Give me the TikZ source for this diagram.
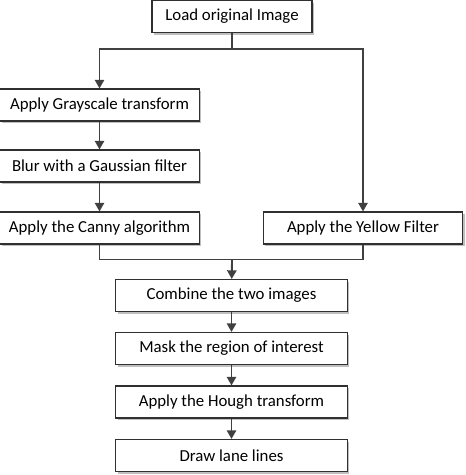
\documentclass[tikz,border=0pt]{standalone}
\usepackage{fontspec}
\setmainfont{Carlito}
\usepackage{tikz}
\usetikzlibrary{arrows.meta}
\usetikzlibrary{shadows}
\usetikzlibrary{calc}
\usetikzlibrary{positioning}
\definecolor{tikz-block}{HTML}{303030}
\definecolor{tikz-line}{HTML}{404040}
\tikzset{every text node part/.style={align=center, font={\fontsize{12.6}{15}\selectfont}}}
\tikzstyle{block} = [rectangle, draw=tikz-block, fill=white, line width=0.8pt, minimum height=24pt,
  drop shadow={shadow xshift=1.5pt, shadow yshift=-1.5pt, fill=black!25, opacity=1}]
\tikzstyle{ln} = [draw=tikz-line, line width=1.4pt, -{Triangle[width=7pt,length=6.5pt]}]
\tikzstyle{ln-plain} = [draw=tikz-line, line width=1.4pt]

\begin{document}
\begin{tikzpicture}[
        x=0.75pt, y=-0.75pt,
        top-block/.style={block, minimum width=120pt},
        side-block/.style={block, minimum width=149.5pt},
        wide-block/.style={block, minimum width=173.5pt}
      ]
      \useasboundingbox (0,0) rectangle (466,475);
      \node[top-block]         (load)    at (232,16.5)         {Load original Image};
      \node[side-block]        (gray)    at (99.5,105)          {Apply Grayscale transform};
      \node[side-block]        (blur)    at (99.5,166)          {Blur with a Gaussian filter};
      \node[side-block]        (canny)   at (99.5,228)          {Apply the Canny algorithm};
      \node[side-block]        (yellow)  at (363,228)           {Apply the Yellow Filter};
      \node[wide-block]        (combine) at (231.5,295.5)       {Combine the two images};
      \node[wide-block]        (mask)    at (231.5,348.5)       {Mask the region of interest};
      \node[wide-block]        (hough)   at (231.5,402)         {Apply the Hough transform};
      \node[wide-block]        (lanes)   at (231.5,455.5)       {Draw lane lines};
      \coordinate              (split)   at (232,49);
      \coordinate              (join)    at (232,259.5);
      \draw[ln-plain]          (load)    --  (split);
      \draw[ln]                (split)   -|  (gray);
      \draw[ln]                (split)   -|  (yellow);
      \draw[ln]                (gray)    --  (blur);
      \draw[ln]                (blur)    --  (canny);
      \draw[ln-plain]          (canny)   |-  (join);
      \draw[ln-plain]          (yellow)  |-  (join);
      \draw[ln]                (join)    --  (combine);
      \draw[ln]                (combine) --  (mask);
      \draw[ln]                (mask)    --  (hough);
      \draw[ln]                (hough)   --  (lanes);
    \end{tikzpicture}
\end{document}
